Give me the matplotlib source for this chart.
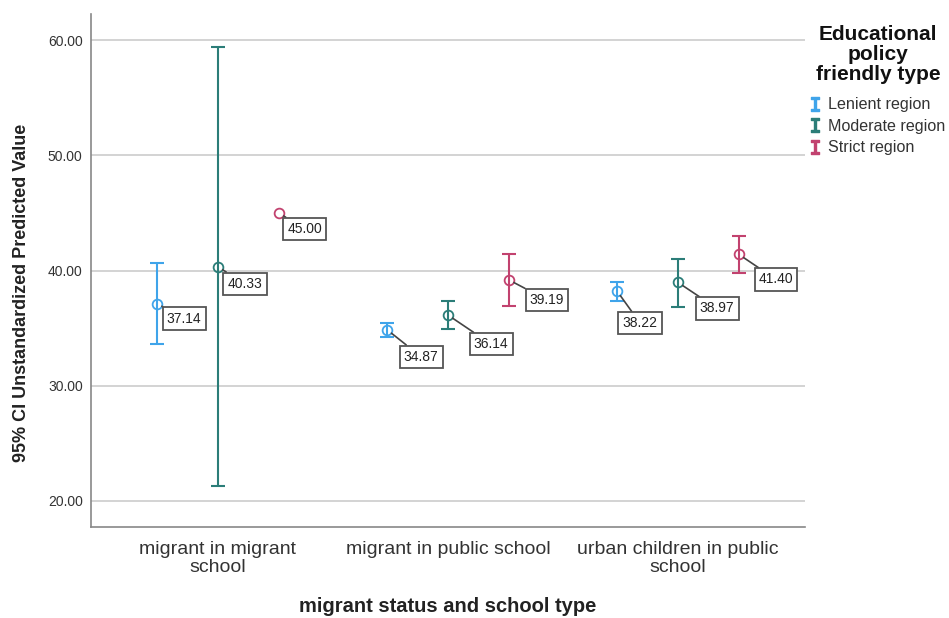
import numpy as np
import matplotlib
matplotlib.use("Agg")
import matplotlib.pyplot as plt
from matplotlib.lines import Line2D

plt.rcParams['font.family'] = ['Liberation Sans', 'DejaVu Sans']

# data
groups = ['migrant in migrant\nschool', 'migrant in public school',
          'urban children in public\nschool']
series = ['Lenient region', 'Moderate region', 'Strict region']
means = [[37.14, 34.87, 38.22],
         [40.33, 36.14, 38.97],
         [45.00, 39.19, 41.40]]
lower = [[33.62, 34.26, 37.38],
         [21.30, 34.90, 36.86],
         [45.00, 36.92, 39.81]]
upper = [[40.65, 35.47, 39.03],
         [59.39, 37.38, 41.03],
         [45.00, 41.43, 43.02]]
yticks = [20, 30, 40, 50, 60]

# style
colors = ['#3fa4ea', '#2b7d78', '#c2426f']
# label box offsets in pixels (dx, dy) per series/group
offsets = [[(27, -15), (34, -27), (23, -32)],
           [(27, -17), (43, -29), (39, -26)],
           [(26, -16), (38, -20), (37, -25)]]
shift = [-0.265, 0.0, 0.265]

fig = plt.figure(figsize=(9.49, 6.18), dpi=100)
ax = fig.add_axes([0.0959, 0.1472, 0.7524, 0.8298])

x = np.arange(len(groups))
for i in range(len(series)):
    m = np.array(means[i])
    lo = m - np.array(lower[i])
    hi = np.array(upper[i]) - m
    xs = x + shift[i]
    has_err = (lo + hi) > 0
    ax.errorbar(xs[has_err], m[has_err], yerr=[lo[has_err], hi[has_err]],
                fmt='none', ecolor=colors[i], elinewidth=1.5, capsize=5,
                capthick=1.5, zorder=3)
    ax.plot(xs, m, 'o', mfc='none', mec=colors[i], ms=7, mew=1.3, zorder=4)
    for j in range(len(groups)):
        ax.annotate('%.2f' % m[j], (xs[j], m[j]), xytext=offsets[i][j],
                    textcoords='offset pixels', ha='center', va='center',
                    fontsize=10, color='#222222',
                    bbox=dict(boxstyle='square,pad=0.3', fc='white',
                              ec='#555555', lw=1.3),
                    arrowprops=dict(arrowstyle='-', color='#444444', lw=1.2,
                                    shrinkA=0, shrinkB=4),
                    zorder=5)

ax.set_xlim(-0.552, 2.552)
ax.set_ylim(17.74, 62.26)
ax.set_yticks(yticks)
ax.set_yticklabels(['%.2f' % v for v in yticks], fontsize=10, color='#333333')
ax.set_xticks(x)
ax.set_xticklabels(groups, fontsize=14, color='#333333', linespacing=1.05)
ax.tick_params(axis='both', length=0, pad=6)
ax.tick_params(axis='x', pad=10)
ax.yaxis.grid(True, color='#cccccc', lw=1.2)
ax.set_axisbelow(True)
for s in ['top', 'right']:
    ax.spines[s].set_visible(False)
ax.spines['left'].set_color('#888888')
ax.spines['bottom'].set_color('#888888')
ax.spines['left'].set_linewidth(1.2)
ax.spines['bottom'].set_linewidth(1.2)

ax.set_ylabel('95% CI Unstandardized Predicted Value', fontsize=13,
              fontweight='bold', color='#222222')
ax.yaxis.set_label_coords(-0.0854, 0.4564)
ax.set_xlabel('migrant status and school type', fontsize=14.5,
              fontweight='bold', color='#222222')
ax.xaxis.set_label_coords(0.5, -0.1364)
ax.xaxis.label.set_verticalalignment('top')

# legend title and entries
fig.text(0.925, 0.9595, 'Educational\npolicy\nfriendly type', ha='center',
         va='top', multialignment='center', fontsize=15, fontweight='bold',
         linespacing=1.05, color='#111111')
handles = [Line2D([], [], ls='none', marker=r'$\mathtt{I}$', ms=10,
                  color=c) for c in colors]
leg = fig.legend(handles, series, loc='upper left',
                 bbox_to_anchor=(0.8398, 0.8608), frameon=False,
                 fontsize=11.6, handlelength=0.8, handletextpad=0.4,
                 labelspacing=0.4, borderpad=0.2)
for t in leg.get_texts():
    t.set_color('#333333')

fig.savefig('out.png', dpi=100)
